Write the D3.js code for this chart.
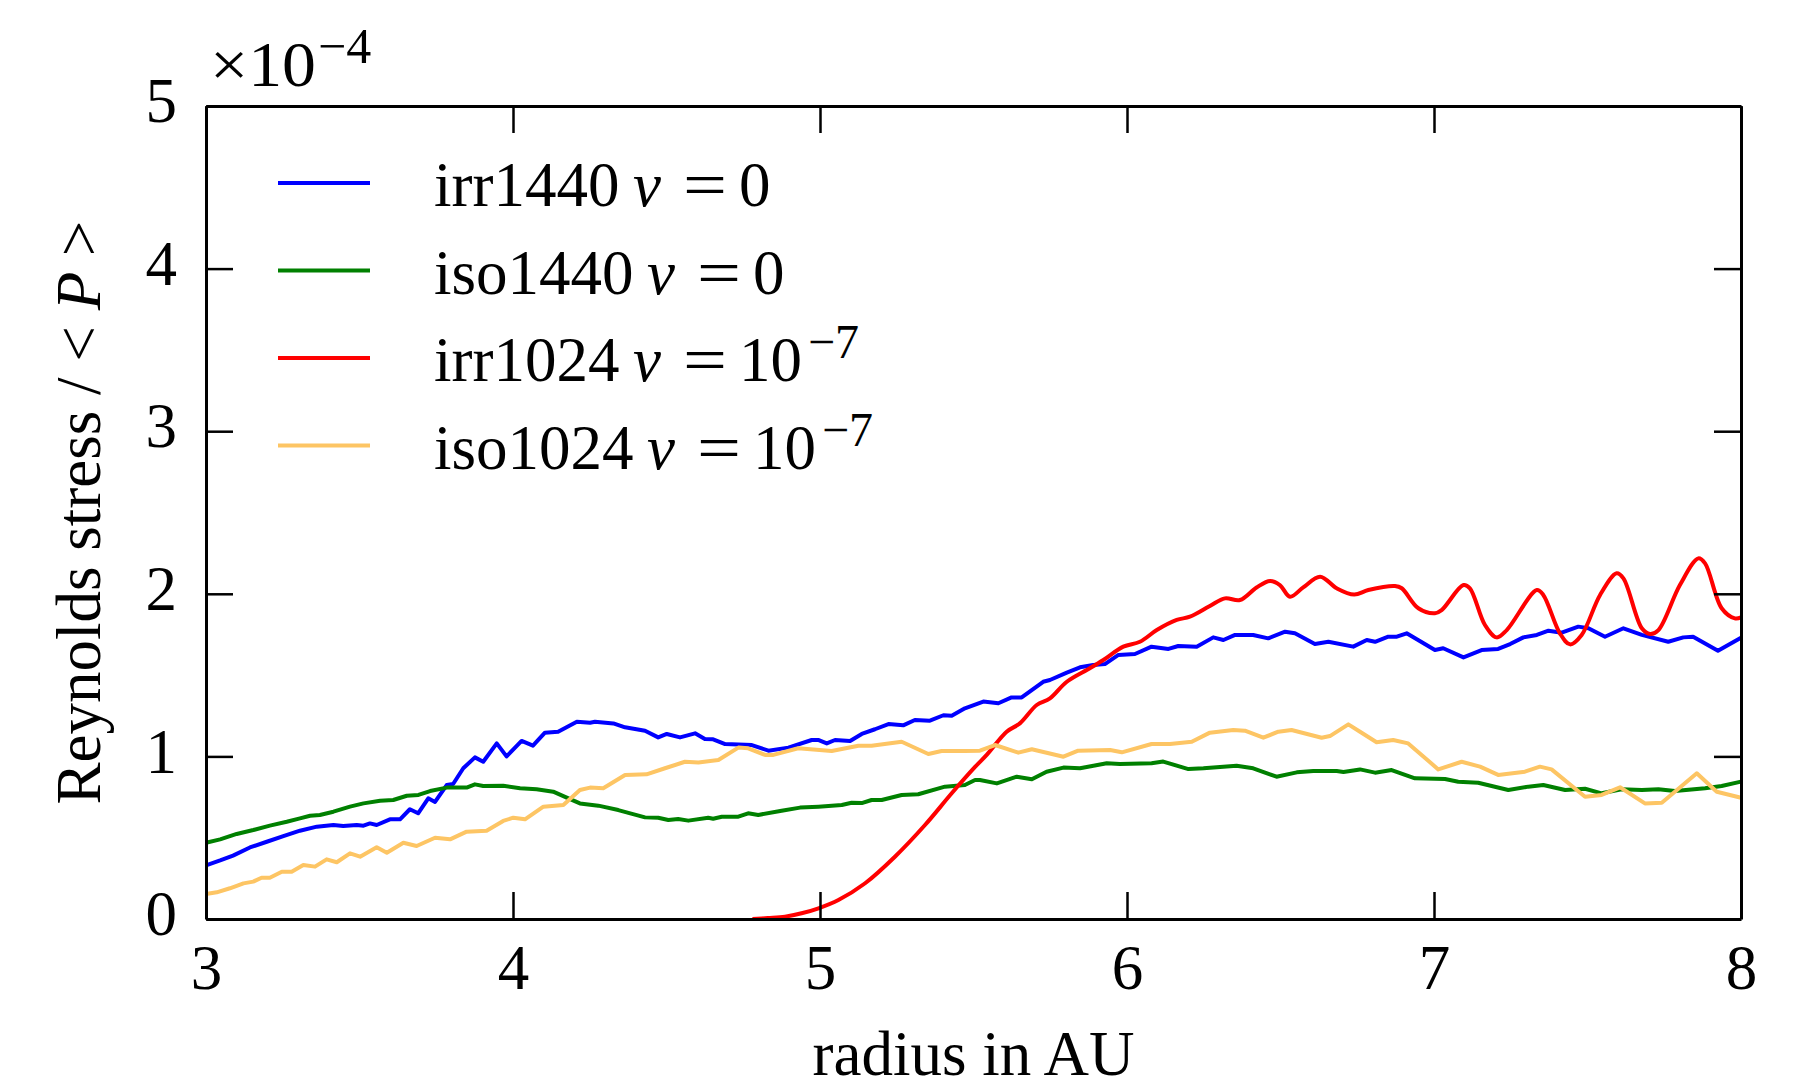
<!DOCTYPE html>
<html>
<head>
<meta charset="utf-8">
<script src="https://cdn.jsdelivr.net/npm/d3@7"></script>
<style>
  html, body { margin: 0; padding: 0; background: #fff; }
  svg text { font-family: "Liberation Serif", "Times New Roman", serif; fill: #000; }
</style>
</head>
<body>
<svg id="chart" width="1812" height="1088"></svg>
<script>
// radius (AU) / Reynolds stress (x 1e-4) pairs
var irr1440 = [[3.00,0.33],[3.046,0.36],[3.088,0.39],[3.143,0.44],[3.198,0.475],[3.252,0.51],[3.306,0.543],[3.361,0.568],[3.415,0.578],[3.447,0.572],[3.491,0.578],[3.513,0.574],[3.534,0.588],[3.556,0.578],[3.599,0.613],[3.632,0.613],[3.664,0.675],[3.691,0.65],[3.724,0.742],[3.746,0.72],[3.784,0.824],[3.805,0.83],[3.838,0.927],[3.876,0.994],[3.903,0.967],[3.947,1.08],[3.979,1.0],[4.028,1.095],[4.065,1.066],[4.104,1.146],[4.147,1.152],[4.208,1.213],[4.251,1.207],[4.267,1.213],[4.327,1.203],[4.365,1.179],[4.43,1.158],[4.473,1.117],[4.501,1.138],[4.544,1.117],[4.593,1.142],[4.625,1.107],[4.652,1.105],[4.691,1.076],[4.778,1.07],[4.832,1.035],[4.897,1.054],[4.973,1.101],[4.994,1.101],[5.022,1.08],[5.049,1.101],[5.098,1.095],[5.136,1.138],[5.179,1.167],[5.223,1.199],[5.271,1.191],[5.309,1.224],[5.358,1.22],[5.402,1.253],[5.429,1.25],[5.472,1.296],[5.532,1.337],[5.581,1.327],[5.624,1.363],[5.657,1.363],[5.727,1.459],[5.749,1.47],[5.804,1.515],[5.847,1.548],[5.89,1.562],[5.928,1.568],[5.972,1.624],[6.026,1.63],[6.08,1.675],[6.135,1.661],[6.167,1.679],[6.227,1.675],[6.281,1.732],[6.314,1.716],[6.352,1.747],[6.411,1.747],[6.46,1.726],[6.515,1.767],[6.547,1.757],[6.612,1.691],[6.656,1.705],[6.737,1.675],[6.781,1.716],[6.808,1.705],[6.851,1.736],[6.879,1.736],[6.911,1.757],[7.003,1.654],[7.03,1.665],[7.096,1.609],[7.155,1.654],[7.209,1.661],[7.248,1.691],[7.291,1.732],[7.335,1.747],[7.373,1.773],[7.416,1.761],[7.47,1.798],[7.503,1.788],[7.557,1.736],[7.617,1.788],[7.677,1.747],[7.763,1.705],[7.812,1.732],[7.844,1.736],[7.925,1.65],[8.0,1.73]];

var iso1440 = [[3.0,0.469],[3.046,0.49],[3.1,0.523],[3.154,0.547],[3.208,0.574],[3.263,0.598],[3.306,0.619],[3.339,0.635],[3.371,0.64],[3.415,0.66],[3.469,0.691],[3.513,0.711],[3.567,0.727],[3.61,0.732],[3.654,0.758],[3.692,0.763],[3.73,0.787],[3.784,0.808],[3.849,0.808],[3.876,0.828],[3.903,0.818],[3.968,0.82],[4.023,0.804],[4.077,0.798],[4.131,0.783],[4.175,0.746],[4.218,0.711],[4.278,0.697],[4.343,0.67],[4.43,0.625],[4.473,0.623],[4.506,0.609],[4.538,0.615],[4.571,0.605],[4.636,0.623],[4.652,0.617],[4.68,0.629],[4.734,0.629],[4.766,0.65],[4.799,0.64],[4.875,0.666],[4.935,0.685],[4.995,0.691],[5.071,0.701],[5.103,0.715],[5.136,0.713],[5.168,0.732],[5.201,0.732],[5.266,0.763],[5.32,0.767],[5.407,0.814],[5.472,0.824],[5.505,0.855],[5.521,0.855],[5.576,0.834],[5.641,0.875],[5.69,0.859],[5.738,0.906],[5.793,0.931],[5.847,0.927],[5.934,0.958],[5.977,0.953],[6.08,0.958],[6.118,0.968],[6.2,0.922],[6.249,0.927],[6.357,0.943],[6.411,0.927],[6.487,0.875],[6.553,0.902],[6.607,0.91],[6.683,0.91],[6.705,0.904],[6.759,0.92],[6.808,0.9],[6.862,0.916],[6.938,0.865],[7.036,0.861],[7.079,0.844],[7.144,0.838],[7.242,0.793],[7.307,0.814],[7.356,0.824],[7.427,0.793],[7.492,0.801],[7.546,0.773],[7.611,0.798],[7.677,0.793],[7.731,0.798],[7.785,0.787],[7.883,0.804],[7.937,0.818],[8.0,0.845]];

var irr1024 = [[4.78,0.0],[4.83,0.006],[4.886,0.014],[4.94,0.035],[4.995,0.066],[5.06,0.117],[5.147,0.22],[5.244,0.383],[5.342,0.578],[5.429,0.773],[5.505,0.935],[5.543,1.009],[5.608,1.152],[5.651,1.203],[5.706,1.316],[5.749,1.357],[5.804,1.459],[5.879,1.542],[5.923,1.593],[5.988,1.675],[6.042,1.705],[6.097,1.777],[6.162,1.839],[6.205,1.859],[6.27,1.925],[6.319,1.972],[6.368,1.962],[6.422,2.039],[6.466,2.079],[6.498,2.054],[6.531,1.982],[6.574,2.039],[6.629,2.105],[6.683,2.034],[6.74,1.995],[6.786,2.023],[6.873,2.048],[6.895,2.034],[6.949,1.911],[7.003,1.88],[7.025,1.9],[7.096,2.054],[7.117,2.034],[7.166,1.808],[7.204,1.732],[7.237,1.777],[7.335,2.023],[7.356,1.993],[7.41,1.757],[7.443,1.689],[7.481,1.747],[7.541,1.993],[7.595,2.126],[7.617,2.095],[7.677,1.788],[7.704,1.753],[7.731,1.777],[7.801,2.054],[7.861,2.218],[7.883,2.187],[7.937,1.911],[7.98,1.849],[8.0,1.855]];

var iso1024 = [[3.0,0.154],[3.035,0.164],[3.078,0.189],[3.122,0.219],[3.154,0.23],[3.181,0.254],[3.208,0.254],[3.247,0.291],[3.279,0.291],[3.317,0.332],[3.355,0.322],[3.393,0.367],[3.426,0.349],[3.469,0.404],[3.502,0.383],[3.556,0.441],[3.589,0.408],[3.643,0.469],[3.686,0.449],[3.746,0.5],[3.795,0.49],[3.849,0.537],[3.914,0.543],[3.968,0.603],[4.001,0.623],[4.039,0.613],[4.099,0.691],[4.164,0.701],[4.218,0.793],[4.251,0.808],[4.294,0.804],[4.365,0.886],[4.435,0.89],[4.495,0.927],[4.56,0.967],[4.604,0.963],[4.669,0.978],[4.734,1.054],[4.766,1.05],[4.821,1.009],[4.848,1.009],[4.929,1.05],[5.038,1.033],[5.125,1.066],[5.168,1.066],[5.266,1.09],[5.353,1.015],[5.396,1.033],[5.472,1.033],[5.521,1.035],[5.57,1.07],[5.646,1.023],[5.69,1.044],[5.793,0.998],[5.841,1.035],[5.945,1.039],[5.983,1.025],[6.08,1.076],[6.14,1.076],[6.211,1.09],[6.27,1.146],[6.346,1.162],[6.384,1.158],[6.444,1.115],[6.493,1.152],[6.536,1.162],[6.634,1.115],[6.661,1.125],[6.721,1.197],[6.759,1.152],[6.813,1.087],[6.867,1.101],[6.916,1.08],[7.014,0.92],[7.09,0.967],[7.15,0.937],[7.209,0.886],[7.296,0.906],[7.345,0.937],[7.383,0.92],[7.492,0.752],[7.546,0.763],[7.606,0.81],[7.687,0.711],[7.742,0.715],[7.856,0.896],[7.921,0.783],[8.0,0.746]];

var seriesNames = ["irr1440", "iso1440", "irr1024", "iso1024"];
var seriesNu = ["0", "0", "10", "10"];
var seriesExp = ["", "", "\u22127", "\u22127"];
var seriesColors = ["#0000ff", "#008000", "#ff0000", "#fdc564"];
var xTicks = [3, 4, 5, 6, 7, 8];
var yTicks = [0, 1, 2, 3, 4, 5];

var svg = d3.select("#chart");
// note: "top" is taken by window.top, so use plot* names
var plotLeft = 206, plotRight = 1741, plotTop = 106, plotBottom = 919;
var FS = 63;

var x = d3.scaleLinear().domain([3, 8]).range([plotLeft, plotRight]);
var y = d3.scaleLinear().domain([0, 5]).range([plotBottom, plotTop]);

// data lines first, frame drawn on top like matplotlib spines
var allSeries = [irr1440, iso1440, irr1024, iso1024];
allSeries.forEach(function(data, i) {
  var line = d3.line()
    .x(function(d) { return x(d[0]); })
    .y(function(d) { return y(d[1]); });
  if (i == 2) line.curve(d3.curveCatmullRom.alpha(0.5));
  svg.append("path")
    .attr("d", line(data))
    .attr("fill", "none")
    .attr("stroke", seriesColors[i])
    .attr("stroke-width", 4)
    .attr("stroke-linejoin", "round");
});

function styleAxis(g) {
  g.selectAll(".domain").attr("stroke", "#000").attr("stroke-width", 3);
  g.selectAll(".tick line").attr("stroke", "#000").attr("stroke-width", 2.5);
  g.selectAll("text").attr("font-size", FS).attr("font-family", "Liberation Serif");
}

var xb = svg.append("g").attr("transform", "translate(0," + plotBottom + ")")
  .call(d3.axisBottom(x).tickValues(xTicks).tickSizeInner(-27).tickSizeOuter(0).tickPadding(25).tickFormat(d3.format("d")));
styleAxis(xb);
var xt = svg.append("g").attr("transform", "translate(0," + plotTop + ")")
  .call(d3.axisTop(x).tickValues(xTicks).tickSizeInner(-27).tickSizeOuter(0).tickFormat(""));
styleAxis(xt);
var yl = svg.append("g").attr("transform", "translate(" + plotLeft + ",0)")
  .call(d3.axisLeft(y).tickValues(yTicks).tickSizeInner(-27).tickSizeOuter(0).tickPadding(29).tickFormat(d3.format("d")));
styleAxis(yl);
yl.selectAll("text").attr("dy", "0.25em");
var yr = svg.append("g").attr("transform", "translate(" + plotRight + ",0)")
  .call(d3.axisRight(y).tickValues(yTicks).tickSizeInner(-27).tickSizeOuter(0).tickFormat(""));
styleAxis(yr);

// offset text above the y axis
svg.append("text").attr("x", 210).attr("y", 86).attr("font-size", FS)
  .attr("textLength", 106).attr("lengthAdjust", "spacingAndGlyphs").text("\u00d710");
svg.append("text").attr("x", 318).attr("y", 63).attr("font-size", 50).text("\u22124");

// axis labels
svg.append("text")
  .attr("x", (plotLeft + plotRight) / 2).attr("y", 1075)
  .attr("text-anchor", "middle").attr("font-size", FS)
  .text("radius in AU");

var ylab = svg.append("text")
  .attr("transform", "translate(100," + ((plotTop + plotBottom) / 2) + ") rotate(-90)")
  .attr("text-anchor", "middle").attr("font-size", FS);
ylab.append("tspan").text("Reynolds stress / < ");
ylab.append("tspan").attr("font-style", "italic").text("P");
ylab.append("tspan").text(" >");

// legend
seriesNames.forEach(function(name, i) {
  var base = 206 + i * 87.5;
  var ly = base - 23;
  svg.append("line")
    .attr("x1", 278).attr("x2", 370).attr("y1", ly).attr("y2", ly)
    .attr("stroke", seriesColors[i]).attr("stroke-width", 4);
  var nuX = name.indexOf("iso") == 0 ? 650 : 636;
  svg.append("text").attr("x", 434).attr("y", base).attr("font-size", FS).text(name);
  svg.append("text").attr("x", nuX - 3).attr("y", base).attr("font-size", FS)
    .attr("font-style", "italic").text("\u03bd");
  svg.append("text").attr("x", nuX + 47).attr("y", base).attr("font-size", FS)
    .attr("textLength", 44).attr("lengthAdjust", "spacingAndGlyphs").text("=");
  svg.append("text").attr("x", nuX + 103).attr("y", base).attr("font-size", FS).text(seriesNu[i]);
  if (seriesExp[i]) {
    svg.append("text").attr("x", nuX + 172).attr("y", base - 23).attr("font-size", 48).text(seriesExp[i]);
  }
});
</script>
</body>
</html>
